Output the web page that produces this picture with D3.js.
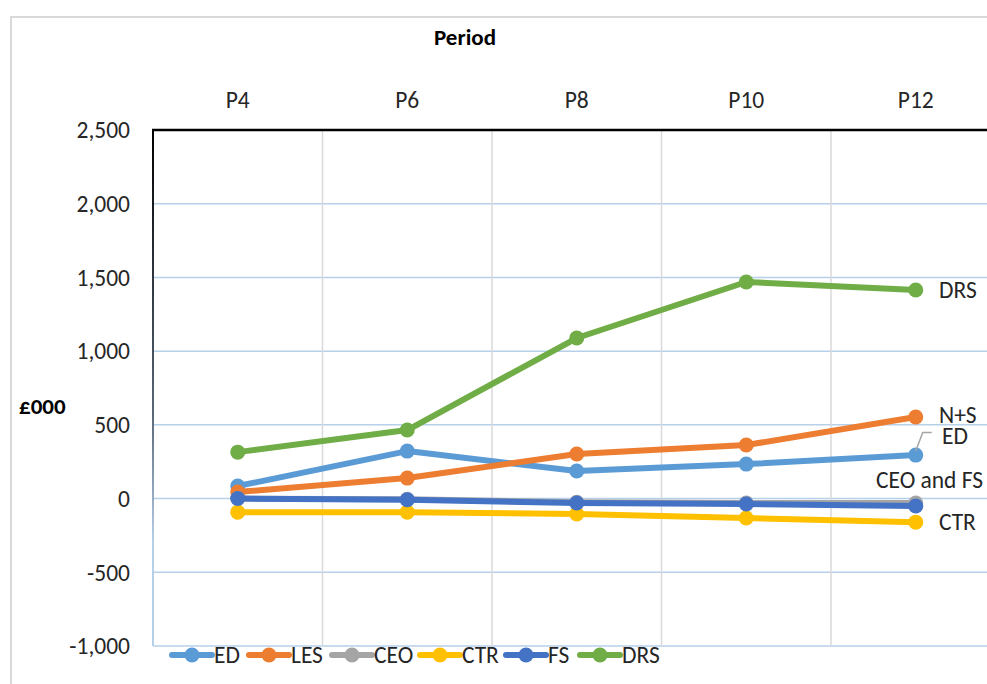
<!DOCTYPE html>
<html>
<head>
<meta charset="utf-8">
<script src="https://cdn.jsdelivr.net/npm/d3@7"></script>
<style>
  body { margin: 0; background: #fff; }
  svg { display: block; font-family: Carlito, "Liberation Sans Narrow", "Liberation Sans", Arial, sans-serif; }
</style>
</head>
<body>
<svg id="chart" width="987" height="684"></svg>
<script>
const periods = ['P4', 'P6', 'P8', 'P10', 'P12'];
const yTicks = [-1000, -500, 0, 500, 1000, 1500, 2000, 2500];

const seriesNames = ['ED', 'LES', 'CEO', 'CTR', 'FS', 'DRS'];
const seriesColors = ['#5b9bd5', '#ed7d31', '#a5a5a5', '#ffc000', '#4472c4', '#70ad47'];
const edValues = [85, 322, 187, 234, 295];
const lesValues = [44, 139, 302, 363, 553];
const ceoValues = [0, -5, -25, -30, -30];
const ctrValues = [-92, -92, -105, -132, -160];
const fsValues = [0, -8, -30, -37, -50];
const drsValues = [315, 465, 1089, 1469, 1415];

// end-of-line labels: text, anchor value (y in £000)
const endLabels = ['DRS', 'N+S', 'ED', 'CEO and FS', 'CTR'];
const endLabelValues = [1415, 565, 428, 130, -160];

const svg = d3.select('#chart');
const width = 987;
const height = 684;

const plotLeft = 153, plotTop = 130, plotBottom = 646, bandW = 169.5;
const fontSize = 23.5;

const x = d3.scaleBand()
  .domain(periods)
  .range([plotLeft, plotLeft + bandW * periods.length])
  .paddingInner(0).paddingOuter(0);

const y = d3.scaleLinear()
  .domain([-1000, 2500])
  .range([plotBottom, plotTop]);

const cx = p => x(p) + x.bandwidth() / 2;

// outer chart border
svg.append('rect')
  .attr('x', 11).attr('y', 17)
  .attr('width', width + 20).attr('height', height + 20)
  .attr('fill', 'none')
  .attr('stroke', '#d9d9d9')
  .attr('stroke-width', 2);

// horizontal gridlines
svg.append('g')
  .selectAll('line')
  .data(yTicks.filter(d => d !== 2500))
  .enter()
  .append('line')
  .attr('x1', plotLeft).attr('x2', width)
  .attr('y1', d => y(d)).attr('y2', d => y(d))
  .attr('stroke', '#b7d0ea')
  .attr('stroke-width', 1.5);

// vertical gridlines between categories
svg.append('g')
  .selectAll('line')
  .data(periods.slice(1))
  .enter()
  .append('line')
  .attr('x1', d => x(d)).attr('x2', d => x(d))
  .attr('y1', plotTop).attr('y2', plotBottom)
  .attr('stroke', '#d9d9d9')
  .attr('stroke-width', 1.5);

// left axis line, dark at top fading to light blue
const defs = svg.append('defs');
const grad = defs.append('linearGradient')
  .attr('id', 'axisGrad')
  .attr('x1', 0).attr('y1', 0).attr('x2', 0).attr('y2', 1);
grad.append('stop').attr('offset', '0%').attr('stop-color', '#000');
grad.append('stop').attr('offset', '55%').attr('stop-color', '#5a6878');
grad.append('stop').attr('offset', '80%').attr('stop-color', '#b7d0ea');
grad.append('stop').attr('offset', '100%').attr('stop-color', '#b7d0ea');
svg.append('rect')
  .attr('x', plotLeft - 1).attr('y', plotTop)
  .attr('width', 2).attr('height', plotBottom - plotTop)
  .attr('fill', 'url(#axisGrad)');

// top category axis
svg.append('line')
  .attr('x1', plotLeft - 1).attr('x2', width)
  .attr('y1', plotTop).attr('y2', plotTop)
  .attr('stroke', '#000')
  .attr('stroke-width', 2.5);

svg.append('g')
  .selectAll('text')
  .data(periods)
  .enter()
  .append('text')
  .attr('x', d => cx(d))
  .attr('y', 108)
  .attr('text-anchor', 'middle')
  .attr('font-size', fontSize)
  .attr('fill', '#262626')
  .text(d => d);

svg.append('text')
  .attr('x', 465).attr('y', 45)
  .attr('text-anchor', 'middle')
  .attr('font-size', 23)
  .attr('font-weight', 'bold')
  .attr('fill', '#000')
  .text('Period');

// y tick labels
const fmt = d3.formatLocale({ decimal: '.', thousands: ',', grouping: [3], currency: ['£', ''], minus: '-' }).format(',');
svg.append('g')
  .selectAll('text')
  .data(yTicks)
  .enter()
  .append('text')
  .attr('x', 130)
  .attr('y', d => y(d))
  .attr('dy', '0.35em')
  .attr('text-anchor', 'end')
  .attr('font-size', fontSize)
  .attr('fill', '#262626')
  .text(d => fmt(d));

svg.append('text')
  .attr('x', 19).attr('y', 414)
  .attr('font-size', 23)
  .attr('font-weight', 'bold')
  .attr('fill', '#000')
  .text('£000');

// series
const seriesValues = [edValues, lesValues, ceoValues, ctrValues, fsValues, drsValues];
const series = seriesNames.map((name, i) => ({
  name,
  color: seriesColors[i],
  values: periods.map((p, j) => ({ p, v: seriesValues[i][j] }))
}));

const line = d3.line()
  .x(d => cx(d.p))
  .y(d => y(d.v));

const gSeries = svg.append('g')
  .selectAll('g')
  .data(series)
  .enter()
  .append('g');

gSeries.append('path')
  .attr('d', d => line(d.values))
  .attr('fill', 'none')
  .attr('stroke', d => d.color)
  .attr('stroke-width', 6)
  .attr('stroke-linejoin', 'round')
  .attr('stroke-linecap', 'round');

gSeries.selectAll('circle')
  .data(d => d.values.map(v => ({ ...v, color: d.color })))
  .enter()
  .append('circle')
  .attr('cx', d => cx(d.p))
  .attr('cy', d => y(d.v))
  .attr('r', 7.5)
  .attr('fill', d => d.color);

// leader line for ED label
const edEnd = cx('P12');
svg.append('polyline')
  .attr('points', [
    [edEnd, y(edValues[4]) - 4],
    [edEnd + 7, y(endLabelValues[2]) - 3],
    [edEnd + 16, y(endLabelValues[2]) - 3]
  ].map(p => p.join(',')).join(' '))
  .attr('fill', 'none')
  .attr('stroke', '#a5a5a5')
  .attr('stroke-width', 1.5);

// end labels
const labelX = [939, 939, 942, 876, 939];
svg.append('g')
  .selectAll('text')
  .data(endLabels)
  .enter()
  .append('text')
  .attr('x', (d, i) => labelX[i])
  .attr('y', (d, i) => y(endLabelValues[i]))
  .attr('dy', '0.35em')
  .attr('font-size', fontSize)
  .attr('fill', '#262626')
  .text(d => d);

// legend
const legendX = [172, 249, 332, 420, 506, 580];
const legend = svg.append('g')
  .selectAll('g')
  .data(series)
  .enter()
  .append('g')
  .attr('transform', (d, i) => `translate(${legendX[i]}, 655)`);

legend.append('line')
  .attr('x1', 0).attr('x2', 40)
  .attr('stroke', d => d.color)
  .attr('stroke-width', 6)
  .attr('stroke-linecap', 'round');

legend.append('circle')
  .attr('cx', 20).attr('r', 7.5)
  .attr('fill', d => d.color);

legend.append('text')
  .attr('x', 42)
  .attr('dy', '0.35em')
  .attr('font-size', fontSize)
  .attr('fill', '#262626')
  .text(d => d.name);
</script>
</body>
</html>
